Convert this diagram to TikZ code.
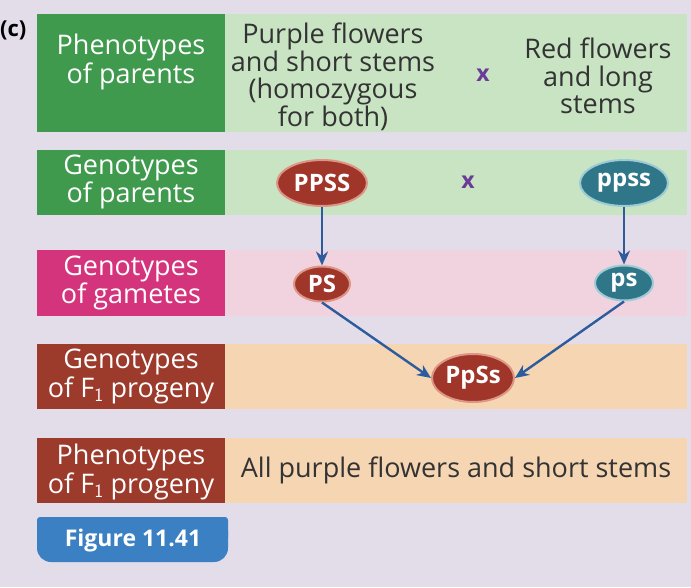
\documentclass[tikz,border=0pt]{standalone}
\usepackage{fontspec}
\setmainfont{Open Sans}
\usetikzlibrary{shapes.geometric,arrows.meta}
\definecolor{bg}{HTML}{E3DDEA}
\definecolor{dgreen}{HTML}{3F9A4E}
\definecolor{lgreen}{HTML}{C8E4C3}
\definecolor{magenta}{HTML}{D4347C}
\definecolor{lpink}{HTML}{F1D3DF}
\definecolor{brown}{HTML}{9C3A2C}
\definecolor{peach}{HTML}{F5D5B2}
\definecolor{txt}{HTML}{333333}
\definecolor{xcol}{HTML}{6A3C98}
\definecolor{ellred}{HTML}{A0352A}
\definecolor{ellredb}{HTML}{DD9585}
\definecolor{ellteal}{HTML}{2E7688}
\definecolor{elltealb}{HTML}{9CCBD6}
\definecolor{arr}{HTML}{2D5C9E}
\definecolor{figblue}{HTML}{3A80C2}
\tikzset{
  band/.style={inner sep=0pt, outer sep=0pt, minimum height=#1},
  lbl/.style={text=white, align=center, font=\fontsize{27}{27}\selectfont, inner sep=0pt},
  body/.style={text=txt, align=center, font=\fontsize{27}{27.5}\selectfont, inner sep=0pt},
  cross/.style={text=xcol, font=\fontsize{23}{23}\selectfont\bfseries, inner sep=0pt},
  gen/.style={ellipse, draw=#1, line width=2pt, text=white, font=\fontsize{24}{24}\selectfont\bfseries, inner sep=0pt},
  link/.style={draw=arr, line width=2.4pt, -{Stealth[length=14pt,width=12pt]}}
}
\begin{document}
\begin{tikzpicture}[x=1pt,y=-1pt]
\fill[bg] (0,0) rectangle (691,587);
\useasboundingbox (0,0) rectangle (691,587);
% bands
\node[band=118pt, minimum width=188pt, fill=dgreen] (l1) at (131,73) {};
\node[band=118pt, minimum width=462pt, fill=lgreen] (r1) at (456,73) {};
\node[band=65pt, minimum width=188pt, fill=dgreen] (l2) at (131,182.5) {};
\node[band=65pt, minimum width=462pt, fill=lgreen] (r2) at (456,182.5) {};
\node[band=66pt, minimum width=188pt, fill=magenta] (l3) at (131,283) {};
\node[band=66pt, minimum width=462pt, fill=lpink] (r3) at (456,283) {};
\node[band=65pt, minimum width=188pt, fill=brown] (l4) at (131,376.5) {};
\node[band=65pt, minimum width=462pt, fill=peach] (r4) at (456,376.5) {};
\node[band=65pt, minimum width=188pt, fill=brown] (l5) at (131,470.5) {};
\node[band=65pt, minimum width=462pt, fill=peach] (r5) at (456,470.5) {};
% figure label
\fill[figblue, rounded corners=14pt] (37,517) rectangle (228,562);
\fill[figblue, rounded corners=3pt] (37,517) rectangle (228,540);
\node[text=white, font=\fontsize{23}{23}\selectfont\bfseries, inner sep=0pt] (fig) at (133,541) {Figure 11.41};
% (c)
\node[font=\fontsize{22}{22}\selectfont\bfseries, text=black, inner sep=0pt, anchor=west] (c) at (0,30) {(c)};
% left labels
\node[lbl] (t1) at (131,62) {Phenotypes\\of parents};
\node[lbl] (t2) at (131,182) {Genotypes\\of parents};
\node[lbl] (t3) at (131,283) {Genotypes\\of gametes};
\node[lbl] (t4) at (131,376.5) {Genotypes\\of F$_{\mathsf{1}}$ progeny};
\node[lbl] (t5) at (131,472) {Phenotypes\\of F$_{\mathsf{1}}$ progeny};
% right texts
\node[body] (p1) at (333,77) {Purple flowers\\and short stems\\(homozygous\\for both)};
\node[cross] (x1) at (483,75) {x};
\node[body] (p2) at (598,76) {Red flowers\\and long\\stems};
\node[cross] (x2) at (468,182) {x};
\node[body] (p5) at (456,470) {All purple flowers and short stems};
% genotype ellipses
\node[gen=ellredb, fill=ellred, minimum width=90pt, minimum height=46pt] (PPSS) at (322,183) {PPSS};
\node[gen=elltealb, fill=ellteal, minimum width=88pt, minimum height=46pt] (ppss) at (624,183) {ppss};
\node[gen=ellredb, fill=ellred, minimum width=56pt, minimum height=35pt] (PS) at (322,284) {PS};
\node[gen=elltealb, fill=ellteal, minimum width=58pt, minimum height=35pt] (ps) at (624,283) {ps};
\node[gen=ellredb, fill=ellred, minimum width=82pt, minimum height=48pt] (PpSs) at (473,378) {PpSs};
% arrows
\draw[link] (PPSS.south) -- (PS.north);
\draw[link] (ppss.south) -- (ps.north);
\draw[link] (PS.south) -- (PpSs.west);
\draw[link] (ps.south) -- (PpSs.east);
\end{tikzpicture}
\end{document}
